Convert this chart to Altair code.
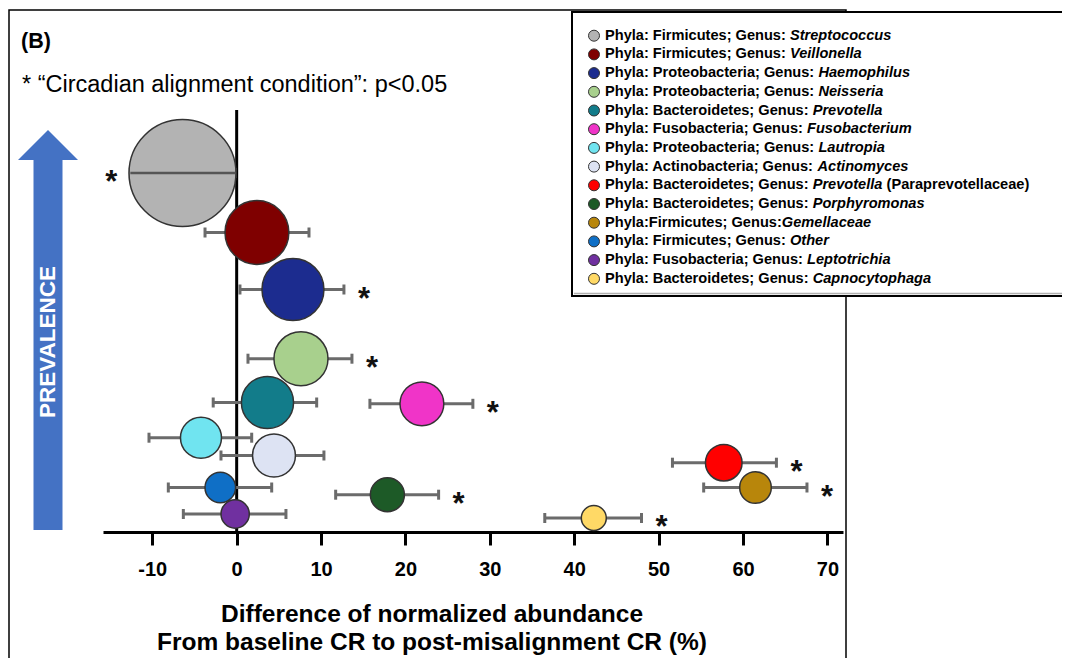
import altair as alt
import pandas as pd

FONT = "Liberation Sans"

# ---------------- data ----------------
genus = ["Streptococcus", "Veillonella", "Haemophilus", "Neisseria", "Prevotella",
         "Fusobacterium", "Lautropia", "Actinomyces", "Prevotella", "Porphyromonas",
         "Gemellaceae", "Other", "Leptotrichia", "Capnocytophaga"]
phylum = ["Firmicutes", "Firmicutes", "Proteobacteria", "Proteobacteria", "Bacteroidetes",
          "Fusobacteria", "Proteobacteria", "Actinobacteria", "Bacteroidetes", "Bacteroidetes",
          "Firmicutes", "Firmicutes", "Fusobacteria", "Bacteroidetes"]
note = ["", "", "", "", "", "", "", "", "(Paraprevotellaceae)", "", "", "", "", ""]
diff = [-6.42, 2.40, 6.67, 7.62, 3.65, 21.95, -4.23, 4.42, 57.72, 17.86, 61.48, -1.94, -0.18, 42.32]
err_lo = [-12.6, -3.75, 0.39, 1.34, -2.78, 15.79, -10.39, -1.86, 51.64, 11.73, 55.34, -8.10, -6.32, 36.51]
err_hi = [-0.2, 8.57, 12.71, 13.66, 9.48, 27.99, 1.78, 10.34, 63.96, 23.93, 67.58, 4.15, 5.84, 47.97]
prevalence = [359, 299.5, 242.5, 173.3, 129.5, 128.2, 94.3, 76.5, 69.3, 37.3, 44.5, 44.5, 18, 14]
abundance = [28.6, 10.2, 9.6, 7.3, 6.8, 4.8, 4.2, 4.6, 3.35, 2.9, 2.5, 2.34, 2.0, 1.56]
significant = ["left", "", "right", "right", "", "right", "", "", "right", "right", "right", "", "", "right"]
colors = ["#b3b3b3", "#7f0000", "#1c2c8f", "#a8d08d", "#127c8a", "#f034c8", "#70e4f0",
          "#dde3f3", "#ff0000", "#1d5a27", "#b8860b", "#0f6fc6", "#7030a0", "#ffd966"]
x_ticks = [-10, 0, 10, 20, 30, 40, 50, 60, 70]

keys = [g + (" " + n if n else "") for g, n in zip(genus, note)]
df = pd.DataFrame({
    "key": keys, "genus": genus, "diff": diff, "lo": err_lo, "hi": err_hi,
    "prev": prevalence, "abund": abundance, "sig": significant,
})

# ---------------- scales ----------------
W, H = 740, 522
XD = [-15.84, 71.85]
YD = [0, 522]
x_scale = alt.Scale(domain=XD, nice=False, zero=False)
y_scale = alt.Scale(domain=YD, nice=False, zero=False)
color_scale = alt.Scale(domain=keys, range=colors)
size_scale = alt.Scale(domain=[0, 28.6], range=[0, 11440])


def px_to_x(px):
    return XD[0] + px / W * (XD[1] - XD[0])


def py_to_y(py):
    return YD[1] - py / H * (YD[1] - YD[0])


# ---------------- legend table (text widths from Liberation Sans Bold metrics) ----------------
HB = {' ': 278, ':': 333, ';': 333, '(': 333, ')': 333,
      'A': 722, 'B': 722, 'C': 722, 'D': 722, 'E': 667, 'F': 611, 'G': 778, 'H': 722, 'I': 278,
      'J': 556, 'K': 722, 'L': 611, 'M': 833, 'N': 722, 'O': 778, 'P': 667, 'Q': 778, 'R': 722,
      'S': 667, 'T': 611, 'U': 722, 'V': 667, 'W': 944, 'X': 667, 'Y': 667, 'Z': 611,
      'a': 556, 'b': 611, 'c': 556, 'd': 611, 'e': 556, 'f': 333, 'g': 611, 'h': 611, 'i': 278,
      'j': 278, 'k': 556, 'l': 278, 'm': 889, 'n': 611, 'o': 611, 'p': 611, 'q': 611, 'r': 389,
      's': 556, 't': 333, 'u': 611, 'v': 556, 'w': 778, 'x': 556, 'y': 556, 'z': 500}
LFS = 14.6


def tw(s, fs):
    return sum(HB.get(c, 556) for c in s) * fs / 1000.0


rows = []
for i, (g, p, n, k) in enumerate(zip(genus, phylum, note, keys)):
    if g == "Gemellaceae":
        prefix = "Phyla:" + p + "; Genus:"
    else:
        prefix = "Phyla: " + p + "; Genus: "
    px = 502.0
    gx = px + tw(prefix, LFS)
    nx = gx + tw(g + " ", LFS)
    rows.append({"key": k, "prefix": prefix, "genus": g, "note": n,
                 "cx": px_to_x(491.0), "px": px_to_x(px), "gx": px_to_x(gx), "nx": px_to_x(nx),
                 "ly": py_to_y(25.7 + 18.7 * i)})
ldf = pd.DataFrame(rows)

x_axis = alt.Axis(values=x_ticks, title=None, grid=False, domainColor="black", domainWidth=3,
                  tickColor="black", tickWidth=3, tickSize=13, labelFont=FONT, labelFontSize=20,
                  labelFontWeight="bold", labelColor="black", labelPadding=14, labelFlush=False,
                  labelExpr="'' + datum.value")
Y = alt.Y("prev:Q", scale=y_scale, axis=None)

base = alt.Chart(df)
one = alt.Chart(pd.DataFrame({"t": [0]}))

frame = one.mark_rect(fillOpacity=0, stroke="black", strokeWidth=1.5).encode(
    x=alt.value(-94), x2=alt.value(743), y=alt.value(0), y2=alt.value(700))

arrow_path = ("M 0 -1 L 0.15 -0.85 L 0.0725 -0.85 L 0.0725 1 L -0.0725 1 "
              "L -0.0725 -0.85 L -0.15 -0.85 Z")
arrow = one.mark_point(shape=arrow_path, filled=True, size=160000, color="#4472c4",
                       opacity=1, strokeWidth=0).encode(x=alt.value(-55), y=alt.value(320))
prev_text = one.mark_text(text="PREVALENCE", angle=270, font=FONT, fontSize=22.5, fontWeight="bold",
                          color="white", align="center", baseline="middle").encode(
    x=alt.value(-55.5), y=alt.value(332))
panel = one.mark_text(text="(B)", font=FONT, fontSize=21.5, fontWeight="bold", color="black",
                      align="left", baseline="alphabetic").encode(x=alt.value(-82), y=alt.value(38))
annot = one.mark_text(text="* \u201cCircadian alignment condition\u201d:  p<0.05", font=FONT,
                      fontSize=23.5, color="black", align="left", baseline="alphabetic").encode(
    x=alt.value(-81), y=alt.value(81.5))

zero_df = pd.DataFrame({"x0": [0.0], "y0": [0.0], "y1": [422.0]})
zero = alt.Chart(zero_df).mark_rule(color="black", strokeWidth=3).encode(
    x=alt.X("x0:Q", scale=x_scale, axis=x_axis), y=alt.Y("y0:Q", scale=y_scale, axis=None),
    y2="y1:Q")

bars = base.mark_rule(color="#6b6b6b", strokeWidth=3).encode(
    x=alt.X("lo:Q", scale=x_scale, axis=x_axis), x2="hi:Q", y=Y)
cap_lo = base.mark_rule(color="#6b6b6b", strokeWidth=3, yOffset=-5, y2Offset=5).encode(
    x=alt.X("lo:Q", scale=x_scale, axis=x_axis), y=Y, y2="prev:Q")
cap_hi = base.mark_rule(color="#6b6b6b", strokeWidth=3, yOffset=-5, y2Offset=5).encode(
    x=alt.X("hi:Q", scale=x_scale, axis=x_axis), y=Y, y2="prev:Q")

bubbles = base.mark_circle(stroke="#333333", strokeWidth=1.5, opacity=1).encode(
    x=alt.X("diff:Q", scale=x_scale, axis=x_axis), y=Y,
    size=alt.Size("abund:Q", scale=size_scale, legend=None),
    fill=alt.Fill("key:N", scale=color_scale, legend=None))

front_bar = base.transform_filter(alt.datum.genus == "Streptococcus").mark_rule(
    color="#555555", strokeWidth=2.5).encode(
    x=alt.X("lo:Q", scale=x_scale, axis=x_axis), x2="hi:Q", y=Y)

star_r = base.transform_filter(alt.datum.sig == "right").mark_text(
    text="*", dx=20, dy=10, font=FONT, fontSize=31, fontWeight="bold", color="#111111",
    align="center", baseline="middle").encode(x=alt.X("hi:Q", scale=x_scale, axis=x_axis), y=Y)
star_l = base.transform_filter(alt.datum.sig == "left").mark_text(
    text="*", dx=-19, dy=10, font=FONT, fontSize=31, fontWeight="bold", color="#111111",
    align="center", baseline="middle").encode(x=alt.X("lo:Q", scale=x_scale, axis=x_axis), y=Y)

leg_box = one.mark_rect(fill="white", stroke="black", strokeWidth=2).encode(
    x=alt.value(469), x2=alt.value(975), y=alt.value(2), y2=alt.value(286))
leg_shadow = one.mark_rule(color="#b0b0b0", strokeWidth=1.5).encode(
    x=alt.value(471), x2=alt.value(975), y=alt.value(283.5))
leg = alt.Chart(ldf)
LY = alt.Y("ly:Q", scale=y_scale, axis=None)
leg_dots = leg.mark_circle(size=121, stroke="#333333", strokeWidth=1, opacity=1).encode(
    x=alt.X("cx:Q", scale=x_scale, axis=x_axis), y=LY,
    fill=alt.Fill("key:N", scale=color_scale, legend=None))
leg_prefix = leg.mark_text(align="left", baseline="middle", font=FONT, fontSize=LFS,
                           fontWeight="bold", color="black").encode(
    x=alt.X("px:Q", scale=x_scale, axis=x_axis), y=LY, text="prefix:N")
leg_genus = leg.mark_text(align="left", baseline="middle", font=FONT, fontSize=LFS,
                          fontWeight="bold", fontStyle="italic", color="black").encode(
    x=alt.X("gx:Q", scale=x_scale, axis=x_axis), y=LY, text="genus:N")
leg_note = leg.transform_filter(alt.datum.note != "").mark_text(
    align="left", baseline="middle", font=FONT, fontSize=LFS, fontWeight="bold",
    color="black").encode(x=alt.X("nx:Q", scale=x_scale, axis=x_axis), y=LY, text="note:N")

title1 = one.mark_text(text="Difference of normalized abundance", font=FONT, fontSize=24.5,
                       fontWeight="bold", color="black", align="center",
                       baseline="alphabetic").encode(x=alt.value(329), y=alt.value(611.7))
title2 = one.mark_text(text="From baseline CR to post-misalignment CR (%)", font=FONT,
                       fontSize=24.5, fontWeight="bold", color="black", align="center",
                       baseline="alphabetic").encode(x=alt.value(329), y=alt.value(639.5))

chart = alt.layer(
    frame, arrow, prev_text, panel, annot, zero, bars, cap_lo, cap_hi, bubbles, front_bar,
    star_r, star_l, leg_box, leg_shadow, leg_dots, leg_prefix, leg_genus, leg_note, title1, title2
).properties(
    width=W, height=H,
    padding={"left": 95, "top": 2, "right": 219, "bottom": 126},
    autosize=alt.AutoSizeParams(type="none"),
    background="white",
).configure_view(stroke=None)

chart.save("out.html", embed_options={"renderer": "svg", "actions": False})
